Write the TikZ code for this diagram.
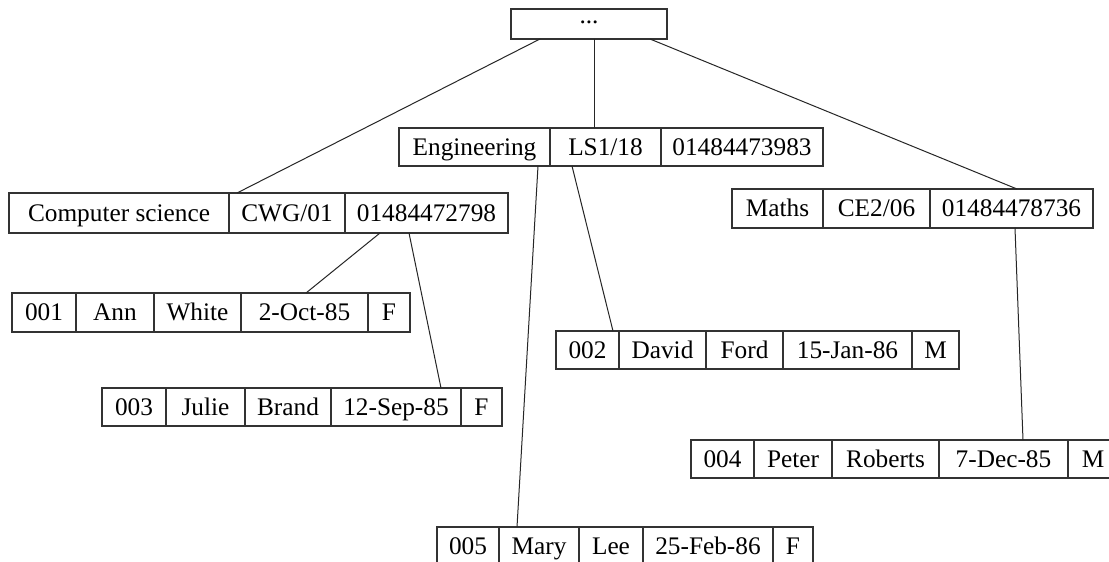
\documentclass[tikz,border=0pt]{standalone}
\usepackage{fontspec}
\setmainfont{Liberation Serif}
\tikzset{
  cellbox/.style={draw=black!80, line width=1.1pt, inner sep=0pt, outer sep=0pt,
    anchor=north west, text height=16.5pt, text depth=0pt,
    font=\fontsize{25.3}{30}\selectfont},
  link/.style={draw=black!85, line width=1pt},
}
\begin{document}
\begin{tikzpicture}[x=1pt,y=-1pt]
\clip (0,0) rectangle (1109,562);
\fill[white] (0,0) rectangle (1109,562);
% root
\node[cellbox, minimum width=156pt, minimum height=30pt] (top) at (511,9) {\raisebox{9pt}{...}};
% Engineering
\node[cellbox, minimum width=151pt, minimum height=38pt] (eng1) at (399,128) {Engineering};
\node[cellbox, minimum width=111pt, minimum height=38pt] (eng2) at (550,128) {LS1/18};
\node[cellbox, minimum width=162pt, minimum height=38pt] (eng3) at (661,128) {01484473983};
% Computer science
\node[cellbox, minimum width=220pt, minimum height=40pt] (cs1) at (9,193) {Computer science};
\node[cellbox, minimum width=116pt, minimum height=40pt] (cs2) at (229,193) {CWG/01};
\node[cellbox, minimum width=163pt, minimum height=40pt] (cs3) at (345,193) {01484472798};
% Maths
\node[cellbox, minimum width=91pt, minimum height=39pt] (m1) at (732,189) {Maths};
\node[cellbox, minimum width=107pt, minimum height=39pt] (m2) at (823,189) {CE2/06};
\node[cellbox, minimum width=163pt, minimum height=39pt] (m3) at (930,189) {01484478736};
% 001
\node[cellbox, minimum width=64pt, minimum height=39pt] (a1) at (12,293) {001};
\node[cellbox, minimum width=78pt, minimum height=39pt] (a2) at (76,293) {Ann};
\node[cellbox, minimum width=87pt, minimum height=39pt] (a3) at (154,293) {White};
\node[cellbox, minimum width=127pt, minimum height=39pt] (a4) at (241,293) {2-Oct-85};
\node[cellbox, minimum width=42pt, minimum height=39pt] (a5) at (368,293) {F};
% 003
\node[cellbox, minimum width=64pt, minimum height=38pt] (j1) at (102,388) {003};
\node[cellbox, minimum width=79pt, minimum height=38pt] (j2) at (166,388) {Julie};
\node[cellbox, minimum width=86pt, minimum height=38pt] (j3) at (245,388) {Brand};
\node[cellbox, minimum width=130pt, minimum height=38pt] (j4) at (331,388) {12-Sep-85};
\node[cellbox, minimum width=41pt, minimum height=38pt] (j5) at (461,388) {F};
% 002
\node[cellbox, minimum width=63pt, minimum height=38pt] (d1) at (556,331) {002};
\node[cellbox, minimum width=87pt, minimum height=38pt] (d2) at (619,331) {David};
\node[cellbox, minimum width=77pt, minimum height=38pt] (d3) at (706,331) {Ford};
\node[cellbox, minimum width=129pt, minimum height=38pt] (d4) at (783,331) {15-Jan-86};
\node[cellbox, minimum width=47pt, minimum height=38pt] (d5) at (912,331) {M};
% 004
\node[cellbox, minimum width=63pt, minimum height=38pt] (p1) at (691,440) {004};
\node[cellbox, minimum width=78pt, minimum height=38pt] (p2) at (754,440) {Peter};
\node[cellbox, minimum width=107pt, minimum height=38pt] (p3) at (832,440) {Roberts};
\node[cellbox, minimum width=129pt, minimum height=38pt] (p4) at (939,440) {7-Dec-85};
\node[cellbox, minimum width=50pt, minimum height=38pt] (p5) at (1068,440) {M};
% 005
\node[cellbox, minimum width=62pt, minimum height=38pt] (l1) at (437,527) {005};
\node[cellbox, minimum width=80pt, minimum height=38pt] (l2) at (499,527) {Mary};
\node[cellbox, minimum width=64pt, minimum height=38pt] (l3) at (579,527) {Lee};
\node[cellbox, minimum width=130pt, minimum height=38pt] (l4) at (643,527) {25-Feb-86};
\node[cellbox, minimum width=40pt, minimum height=38pt] (l5) at (773,527) {F};
% connectors
\draw[link] ([xshift=29pt]top.south west) -- ([xshift=8pt]cs2.north west);
\draw[link] ([xshift=83pt]top.south west) -- ([xshift=44pt]eng2.north west);
\draw[link] ([xshift=139pt]top.south west) -- ([xshift=87pt]m3.north west);
\draw[link] ([xshift=35pt]cs3.south west) -- ([xshift=65pt]a4.north west);
\draw[link] ([xshift=64pt]cs3.south west) -- ([xshift=110pt]j4.north west);
\draw[link] ([xshift=139pt]eng1.south west) -- ([xshift=18pt]l2.north west);
\draw[link] ([xshift=22pt]eng2.south west) -- ([xshift=57pt]d1.north west);
\draw[link] ([xshift=85pt]m3.south west) -- ([xshift=84pt]p4.north west);
\end{tikzpicture}
\end{document}
